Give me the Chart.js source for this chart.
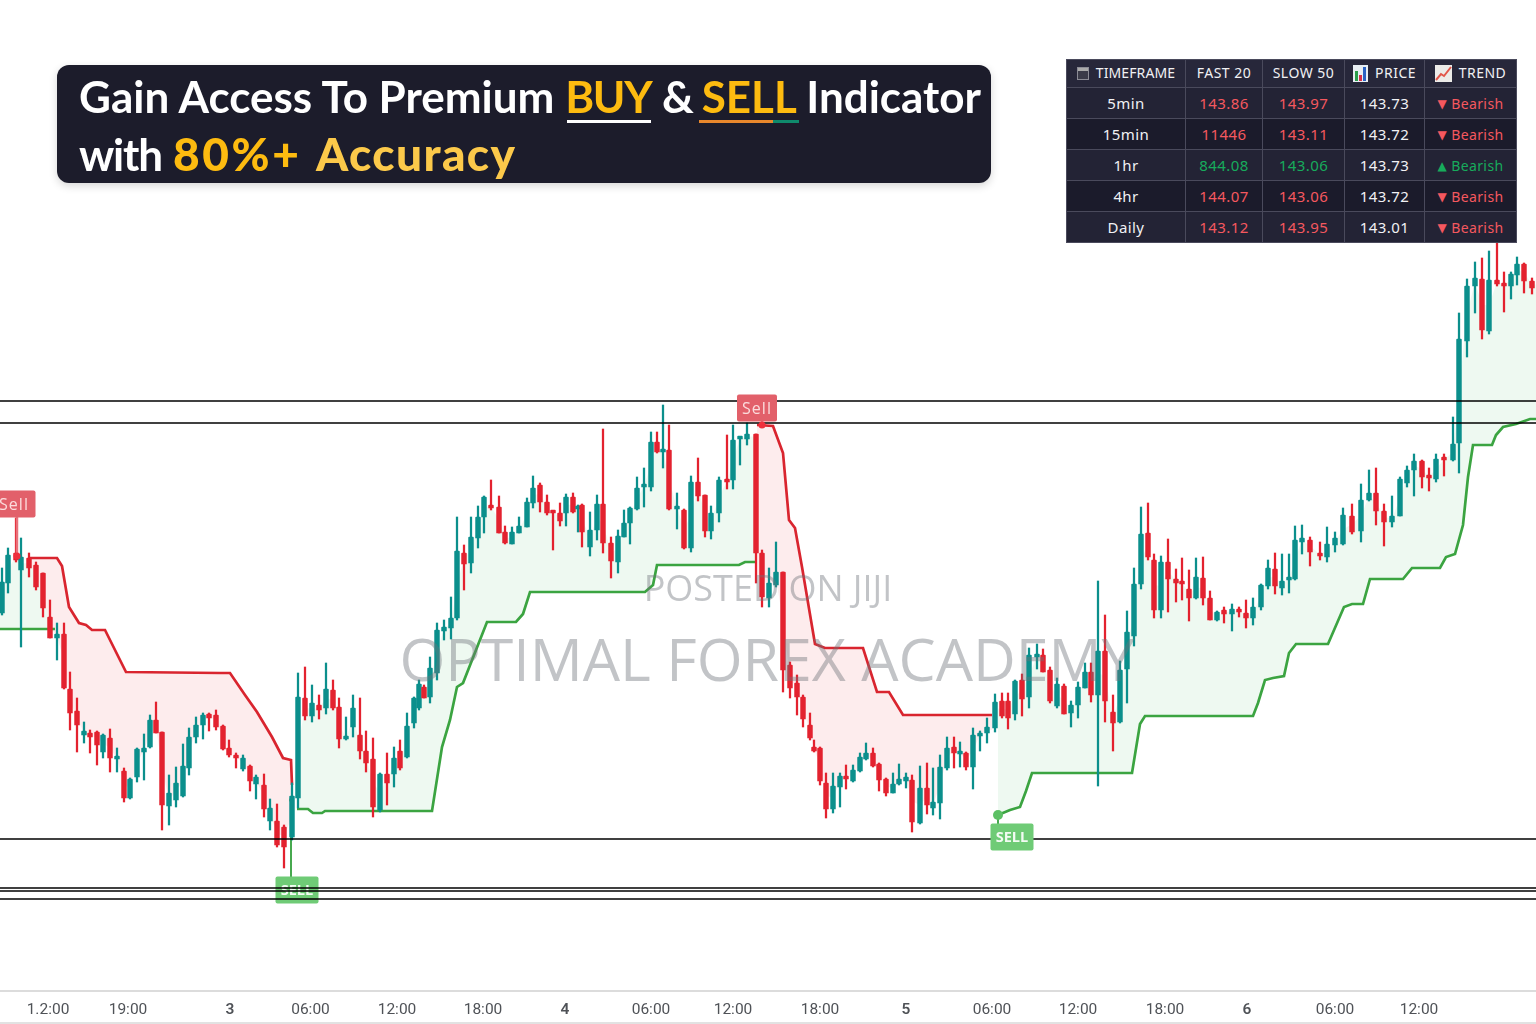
<!DOCTYPE html>
<html><head><meta charset="utf-8">
<script src="https://cdn.jsdelivr.net/npm/chart.js@4"></script>
<style>
html,body{margin:0;padding:0;background:#fff;width:1536px;height:1024px;overflow:hidden}
#wrap{position:absolute;left:0;top:0;width:1536px;height:1024px}
canvas{position:absolute;left:0;top:0}
.wm{position:absolute;white-space:nowrap;font-family:"Open Sans";color:rgba(110,115,122,.42);transform:translate(-50%,-50%);pointer-events:none;font-weight:400}
#banner{position:absolute;left:57px;top:65px;width:934px;height:118px;background:#1c1c2b;border-radius:12px;box-shadow:0 3px 8px rgba(0,0,0,.16);font-family:Lato;font-weight:700;color:#fff;font-size:44px}
#banner div.l{position:absolute;left:22px;white-space:nowrap;line-height:58px}
.gold{color:#fdbb10}.gold2{color:#fcc94a}
.ul{position:absolute;height:3px;top:55px}
#tbl{position:absolute;left:1066px;top:59px;width:450px;height:183px;border-collapse:collapse;table-layout:fixed;font-family:"Noto Sans";font-size:15px;color:#f1f1f4;background:#1b1b2b;text-align:center;letter-spacing:.4px}
#tbl td{border:1px solid #4a4a5c;padding:0;white-space:nowrap;overflow:hidden}
#tbl tr:nth-child(even) td{background:#232335}
#tbl tr:first-child td{background:#27273a;font-size:14px;letter-spacing:.5px;padding-bottom:2px}
#tbl tr:first-child td:first-child{letter-spacing:.1px}
.red{color:#f5585f}.green{color:#17ab5c}
.ic{display:inline-block;vertical-align:-2px;margin-right:7px}
#foot{position:absolute;left:0;top:1022px;width:1536px;height:2px;background:#e2e2e2}
</style></head><body>
<div id="wrap">
<canvas id="c" width="1536" height="1024"></canvas>
<div class="wm" style="left:768px;top:587px;font-size:36px">POSTED ON JIJI</div>
<div class="wm" style="left:767px;top:658px;font-size:59px">OPTIMAL FOREX ACADEMY</div>
<div id="banner">
<div class="l" style="top:2px">Gain Access To Premium <span class="gold" style="letter-spacing:-1.3px">BUY</span> <span style="margin-right:-3px">&amp;</span> <span class="gold">SELL</span> Indicator</div>
<div class="l" style="top:60px;letter-spacing:-1.2px">with</div>
<div class="l gold" style="left:116px;top:60px;font-size:46px;font-weight:900;letter-spacing:2.6px">80%+</div>
<div class="l gold2" style="left:259px;top:60px;font-size:46px;font-weight:900;letter-spacing:1.4px">Accuracy</div>
<div class="ul" style="left:510px;width:84px;background:#fff"></div>
<div class="ul" style="left:642px;width:74px;background:#e8872c"></div>
<div class="ul" style="left:716px;width:26px;background:#0f8a6c"></div>
</div>
<table id="tbl"></table>
<div id="foot"></div>
</div>
<script>
// Bars: time in session units, prices in points above 138.00
const barTime=[0.2,0.8,1.6,2.1,2.9,3.6,4.3,5.0,5.7,6.4,7.0,7.7,8.4,9.0,9.7,10.3,11.0,11.7,12.4,13.0,13.7,14.4,15.0,15.6,16.2,16.9,17.6,18.3,18.9,19.6,20.3,20.9,21.6,22.3,22.9,23.6,24.3,25.0,25.6,26.4,27.0,27.7,28.4,29.2,29.8,30.5,31.2,31.9,32.6,33.3,33.9,34.6,35.3,36.0,36.6,37.3,38.0,38.7,39.4,40.0,40.7,41.4,41.9,42.4,43.0,43.7,44.4,45.1,45.7,46.4,47.1,47.8,48.4,49.1,49.9,50.5,51.2,51.9,52.7,53.3,54.0,54.7,55.3,56.0,56.6,57.3,57.8,58.2,59.0,59.7,60.3,61.1,61.8,62.4,63.0,63.7,64.4,65.1,65.7,66.3,66.9,67.7,68.4,69.1,69.8,70.5,71.1,71.9,72.7,73.3,74.0,74.7,75.6,76.2,76.9,77.6,78.3,79.0,79.7,80.3,81.0,81.4,82.0,82.6,83.3,84.0,84.6,85.3,86.0,86.6,87.3,87.9,88.6,89.3,89.9,90.6,91.2,92.0,92.7,93.3,94.0,94.7,95.4,96.0,96.6,97.3,98.0,98.7,99.5,100.2,100.8,101.5,102.2,102.9,103.7,104.3,105.0,105.7,106.4,107.1,107.8,108.5,109.1,109.8,110.5,111.3,112.0,112.7,113.4,114.1,114.8,115.4,116.1,116.8,117.6,118.2,118.9,119.6,120.3,121.0,121.7,122.4,123.2,123.9,124.6,125.3,126.1,126.8,127.5,128.2,128.9,129.5,130.2,131.0,132.0,132.7,133.5,134.3,135.2,136.1,136.9,137.6,138.4,139.2,140.0,140.7,141.4,142.2,142.9,143.6,144.4,145.3,145.9,146.7,147.5,148.2,148.9,149.7,150.4,151.1,151.7,152.4,153.2];
const open=[387,417,447,430,442,435,427,383,362,366,311,289,265,267,268,248,262,241,229,202,223,248,253,280,268,194,200,204,232,263,275,286,285,274,252,245,231,234,216,215,179,179,173,163,202,302,284,295,292,310,293,261,273,265,249,241,190,226,226,249,243,277,292,313,303,327,369,372,382,447,437,462,483,495,493,468,456,467,473,497,515,498,488,487,487,503,491,495,453,470,496,457,438,463,477,491,513,513,558,548,550,491,490,452,518,505,469,487,519,520,561,561,566,447,402,415,428,335,317,303,275,253,252,217,191,213,224,219,229,241,247,236,221,207,216,219,220,177,212,192,197,232,253,246,247,233,264,267,272,299,299,286,320,303,343,345,330,294,314,287,295,312,328,305,349,288,278,331,364,416,467,440,390,438,421,419,411,402,422,402,380,390,386,391,387,382,393,414,431,412,420,421,458,460,447,443,455,456,484,469,500,507,489,478,484,517,530,539,525,521,541,540,557,659,714,721,669,720,717,714,725,736,719];
const high=[432,452,482,462,447,438,427,400,377,377,328,302,278,270,269,266,271,252,232,222,252,266,285,298,268,225,233,256,272,283,287,287,290,275,260,247,245,235,225,226,201,196,175,217,327,333,315,305,337,320,302,283,305,302,269,262,227,247,253,260,287,303,320,315,343,377,380,403,483,455,483,494,504,520,504,474,473,483,502,524,517,505,488,497,506,507,495,496,488,505,571,463,470,490,493,523,532,568,568,595,575,507,491,524,542,505,494,523,565,575,563,577,566,450,432,458,428,338,325,305,287,260,253,227,227,227,235,235,247,257,252,237,222,227,236,227,225,234,237,232,245,263,263,258,248,272,269,282,306,307,307,320,326,352,356,351,333,322,316,299,318,337,337,419,385,305,339,389,432,493,497,446,444,461,431,442,430,442,443,409,389,393,396,393,400,402,416,440,447,446,446,474,475,463,458,473,468,492,496,516,530,532,496,504,523,534,546,540,532,546,546,583,687,721,738,742,749,770,728,728,743,737,722];
const low=[385,407,438,353,423,410,383,362,340,311,270,248,257,247,235,242,228,228,198,201,218,220,252,267,170,175,193,203,225,257,261,269,270,250,243,232,229,209,201,183,170,153,132,160,192,280,278,281,286,290,252,260,263,241,228,183,188,195,213,230,242,272,290,302,297,320,360,361,380,410,427,452,467,490,467,456,456,467,473,492,488,485,450,474,474,487,468,453,444,460,447,422,427,463,456,490,493,509,547,532,490,471,451,448,499,463,461,478,511,511,535,555,417,393,393,413,308,302,285,273,260,248,215,182,187,193,211,218,228,240,233,209,204,207,215,212,168,176,186,185,181,230,232,233,230,211,249,257,268,282,271,280,284,292,331,328,297,292,286,273,282,312,298,214,278,249,277,297,354,411,440,382,382,388,398,400,379,401,395,380,379,377,369,383,372,375,390,411,406,405,407,420,446,434,440,438,448,455,466,458,499,475,454,473,484,513,504,512,509,518,524,539,527,643,687,661,666,714,688,701,715,707,706];
const close=[418,445,440,443,432,413,392,362,366,312,287,275,269,263,255,265,242,242,202,221,251,252,280,267,195,207,217,234,263,275,285,282,273,251,245,242,242,219,223,191,192,155,153,204,303,284,297,290,311,292,261,262,292,249,237,193,226,217,242,232,274,302,316,302,332,370,373,382,449,436,463,483,503,492,467,457,468,474,498,512,498,487,487,479,503,488,494,468,470,496,457,439,464,477,492,512,514,558,548,549,491,493,452,518,504,469,487,520,518,560,562,566,447,403,417,428,330,312,303,281,262,249,219,191,214,224,221,230,243,247,234,220,207,216,221,223,178,212,195,198,233,252,247,247,233,265,267,273,298,284,282,319,301,345,345,328,299,316,286,295,313,328,305,349,299,277,330,368,416,466,443,390,438,421,417,416,402,423,402,380,388,386,391,388,382,393,415,432,414,419,422,460,462,448,444,456,462,485,468,500,507,489,478,484,521,530,539,523,522,541,540,556,661,714,722,670,720,716,714,726,736,719,712];
// Trend line segments
const trendATimes=[0,5.5];const trendAValues=[371,371];
const trendBTimes=[2.9,5.7,6.2,6.9,7.9,8.6,9.2,10.5,12.6,22.0,23.0,24.5,25.7,27.2,28.3,29.1,29.2];
const trendBValues=[442,442,434,393,377,375,370,370,328,327,327,305,288,263,242,240,215];
const trendCTimes=[29.7,30.8,31.3,32.2,32.5,43.2,44.2,45.0,45.7,46.3,48.7,51.6,52.3,53.0,64.5,65.3,65.7,73.9,74.5,75.5];
const trendCValues=[191,191,187,187,189,189,253,280,313,317,378,378,386,408,408,415,435,435,438,438];
const trendDTimes=[75.7,77.3,78.3,78.9,79.5,80.2,81.5,82.5,86.3,87.7,88.9,90.3,99.2];
const trendDValues=[575,574,547,480,472,433,356,352,352,308,308,285,285];
const trendETimes=[99.8,101.0,102.0,102.6,103.2,113.2,114.0,114.5,125.3,125.8,126.5,127.3,128.4,128.9,129.6,132.8,134.4,135.2,136.3,137.0,140.3,141.2,144.0,144.6,145.5,146.3,146.8,147.3,149.2,149.6,150.3,151.6,153.0,153.6];
const trendEValues=[185,190,193,209,227,227,276,284,284,297,320,322,324,347,356,356,393,396,396,421,421,432,432,443,446,475,523,555,555,565,573,576,581,581];
const levelValues=[599,577,161,112,109,101];
// Signals
const signalTexts=["Sell","Sell","SELL","SELL"];
const signalKinds=["sell","sell","buy","buy"];
const signalTimes=[1.7,76.2,29.1,99.8];
const signalTips=[444,575,200,185];
const signalLabelTimes=[1.4,75.7,29.7,101.2];
const signalLabelValues=[496,592,110,163];
// Axis
const tickTimes=[4.8,12.8,23.0,31.05,39.7,48.3,56.5,65.1,73.3,82.0,90.6,99.2,107.8,116.5,124.7,133.5,141.9];
const tickLabels=["1.2:00","19:00","3","06:00","12:00","18:00","4","06:00","12:00","18:00","5","06:00","12:00","18:00","6","06:00","12:00"];
// Table
const headers=["TIMEFRAME","FAST 20","SLOW 50","PRICE","TREND"];
const timeframes=["5min","15min","1hr","4hr","Daily"];
const fastValues=["143.86","11446","844.08","144.07","143.12"];
const slowValues=["143.97","143.11","143.06","143.06","143.95"];
const priceValues=["143.73","143.72","143.73","143.72","143.01"];
const trendUp=[false,false,true,false,false];
const trendTexts=["Bearish","Bearish","Bearish","Bearish","Bearish"];

const icons=[
'<svg class="ic" width="12" height="13"><rect x=".5" y=".5" width="11" height="12" fill="#3a3a48" stroke="#8b8b95"/><rect x="1" y="1" width="10" height="3" fill="#aaa"/></svg>','','',
'<svg class="ic" width="15" height="17" style="vertical-align:-4px"><rect width="15" height="17" fill="#e8eef3"/><rect x="2" y="6" width="3" height="10" fill="#2a9d4a"/><rect x="6" y="10" width="3" height="6" fill="#d8304a"/><rect x="10" y="2" width="3" height="14" fill="#2a62c4"/></svg>',
'<svg class="ic" width="17" height="17" style="vertical-align:-4px"><rect width="17" height="17" fill="#ecebe8"/><path d="M1 15 L6 9 L9 11 L16 2" stroke="#e2564a" stroke-width="2" fill="none"/></svg>'];
const widths=[119,77,82,80,92],rowH=[28,31,31,31,31,31];
let html='<colgroup>'+widths.map(w=>`<col style="width:${w}px">`).join('')+'</colgroup>';
html+=`<tr style="height:${rowH[0]}px">`+headers.map((h,i)=>`<td>${icons[i]}${h}</td>`).join('')+'</tr>';
timeframes.forEach((t,i)=>{
  const cls=trendUp[i]?'green':'red';
  html+=`<tr style="height:${rowH[i+1]}px"><td>${t}</td><td class="${cls}">${fastValues[i]}</td><td class="${cls}">${slowValues[i]}</td><td>${priceValues[i]}</td><td class="${cls}" style="font-size:14px"><span style="font-size:12px;font-family:'DejaVu Sans';vertical-align:1px">${trendUp[i]?'▲':'▼'}</span> ${trendTexts[i]}</td></tr>`;
});
document.getElementById('tbl').innerHTML=html;

const UP='#0b8f8c',DOWN='#e3222f',LINE_UP='#3ba441',LINE_DOWN='#d9252f';
const colors=close.map((c,i)=>c>=open[i]?UP:DOWN);
const segments=[
 {t:trendATimes,v:trendAValues,c:LINE_UP,f:'rgba(60,190,90,.085)'},
 {t:trendBTimes,v:trendBValues,c:LINE_DOWN,f:'rgba(235,70,80,.10)'},
 {t:trendCTimes,v:trendCValues,c:LINE_UP,f:'rgba(60,190,90,.085)'},
 {t:trendDTimes,v:trendDValues,c:LINE_DOWN,f:'rgba(235,70,80,.10)'},
 {t:trendETimes,v:trendEValues,c:LINE_UP,f:'rgba(60,190,90,.085)'}];
const datasets=[];
segments.forEach(s=>{
  datasets.push({type:'line',data:s.t.map((x,i)=>({x,y:s.v[i]})),borderColor:s.c,borderWidth:2.7,pointRadius:0,tension:0,fill:false,order:4});
});
segments.forEach((s,k)=>{
  const a=s.t[0],b=s.t[s.t.length-1],d=[];
  barTime.forEach((x,i)=>{if(x>=a&&x<=b)d.push({x,y:(open[i]+close[i])/2});});
  d.unshift({x:a,y:d[0].y});d.push({x:b,y:d[d.length-1].y});
  datasets.push({type:'line',data:d,borderColor:'rgba(0,0,0,0)',borderWidth:0,pointRadius:0,tension:0,
    fill:{target:k,above:s.f,below:s.f},order:10});
});
datasets.push({type:'bar',data:barTime.map((x,i)=>({x,y:[low[i],high[i]]})),backgroundColor:colors,barThickness:1.6,grouped:false,order:3});
datasets.push({type:'bar',data:barTime.map((x,i)=>({x,y:[open[i],close[i]]})),backgroundColor:colors,barThickness:4.8,minBarLength:3,borderRadius:1,grouped:false,order:2});
levelValues.forEach(v=>datasets.push({type:'line',data:[{x:0,y:v},{x:153.6,y:v}],borderColor:'#000',borderWidth:1.5,pointRadius:0,fill:false,order:0}));

const drawSignal=(chart,i)=>{
  const {ctx,scales:{x,y}}=chart,buy=signalKinds[i]==='buy';
  const tx=x.getPixelForValue(signalTimes[i]),ty=y.getPixelForValue(signalTips[i]);
  const lx=x.getPixelForValue(signalLabelTimes[i]),ly=y.getPixelForValue(signalLabelValues[i]);
  const col=buy?'#6fcb76':'#e2606a';
  ctx.save();
  ctx.strokeStyle=buy?'#47a94f':'#e8707a';ctx.lineWidth=buy?2:2.5;
  ctx.beginPath();ctx.moveTo(tx,ty);ctx.lineTo(tx,ly);ctx.stroke();
  ctx.fillStyle=buy?'#5cc064':'#ee2f3c';
  ctx.beginPath();ctx.arc(tx,ty,buy?(i===3?5:2):3.5,0,7);ctx.fill();
  const w=i===1?40:43,h=27;
  ctx.fillStyle=col;ctx.beginPath();ctx.roundRect(lx-w/2,ly-h/2,w,h,2);ctx.fill();
  ctx.fillStyle=buy?'#f3fbf3':'#fbdcdc';ctx.font=(buy?'700 ':'400 ')+(buy?'14.5px':'16px')+' "Open Sans"';
  ctx.letterSpacing=buy?'0px':'1px';
  ctx.textAlign='center';ctx.textBaseline='middle';ctx.fillText(signalTexts[i],lx,ly+1);
  ctx.restore();
};
const signalPlugin={id:'signals',
  beforeDatasetsDraw(c){signalKinds.forEach((k,i)=>{if(i===2)drawSignal(c,i);});},
  afterDatasetsDraw(c){signalKinds.forEach((k,i)=>{if(i!==2)drawSignal(c,i);});}};

new Chart(document.getElementById('c'),{
 type:'bar',
 data:{datasets},
 plugins:[signalPlugin],
 options:{responsive:false,animation:false,devicePixelRatio:1,
  layout:{padding:0},
  plugins:{legend:{display:false},tooltip:{enabled:false}},
  scales:{
   x:{type:'linear',min:0,max:153.6,offset:false,
      grid:{display:false,drawTicks:false,offset:false},
      border:{display:true,color:'#dcdcdc',width:2},
      afterBuildTicks(s){s.ticks=tickTimes.map(value=>({value}));},
      afterFit(s){s.height=33;},
      ticks:{autoSkip:false,maxRotation:0,minRotation:0,padding:10,color:'#4f5257',
        font:c=>{const l=tickLabels[tickTimes.indexOf(c.tick&&c.tick.value)]||'';return {family:'Roboto',size:15.5,weight:l.length===1?'600':'400'};},
        callback:v=>tickLabels[tickTimes.indexOf(v)]}},
   y:{display:false,min:9,max:1000}
  }}
});
</script>
</body></html>
